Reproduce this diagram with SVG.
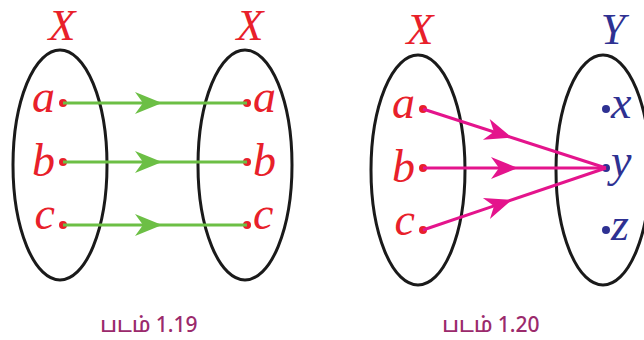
<svg xmlns="http://www.w3.org/2000/svg" xmlns:xlink="http://www.w3.org/1999/xlink" width="644" height="340" viewBox="0 0 644 340">
<style>
.set{fill:none;stroke:#1a1a1a;stroke-width:3}
.lbl{font-family:"Liberation Serif","DejaVu Serif",serif;font-style:italic}
.red{fill:#e8202a}
.blue{fill:#2e3192}
.big{font-size:44px}
.el{font-size:46px}
.g{stroke:#6cbf45;stroke-width:3;fill:none}
.m{stroke:#e4148c;stroke-width:3;fill:none}
.cap{font-family:"Noto Sans","Noto Sans Tamil","Liberation Sans",sans-serif;font-size:21px;font-weight:500;fill:#9b2a6c}
</style>
<defs>
<path id="head" d="M0,0 L-27,-11 L-19,0 L-27,11 Z"/>
</defs>
<rect width="644" height="340" fill="#fff"/>

<g id="fig119-setX1">
<ellipse class="set" cx="60" cy="165" rx="47" ry="115"/>
<text class="lbl red big" x="62" y="40" text-anchor="middle">X</text>
<text class="lbl red el" x="55" y="112" text-anchor="end">a</text>
<text class="lbl red el" x="55" y="176" text-anchor="end">b</text>
<text class="lbl red el" x="55" y="229" text-anchor="end">c</text>
<circle class="red" cx="63" cy="103" r="4"/>
<circle class="red" cx="63" cy="162" r="4"/>
<circle class="red" cx="63" cy="225" r="4"/>
</g>
<g id="fig119-setX2">
<ellipse class="set" cx="245" cy="165" rx="47" ry="115"/>
<text class="lbl red big" x="250" y="40" text-anchor="middle">X</text>
<text class="lbl red el" x="253" y="112">a</text>
<text class="lbl red el" x="253" y="176">b</text>
<text class="lbl red el" x="253" y="229">c</text>
<circle class="red" cx="247" cy="103" r="4"/>
<circle class="red" cx="247" cy="162" r="4"/>
<circle class="red" cx="247" cy="225" r="4"/>
</g>

<g id="fig120-setX">
<ellipse class="set" cx="418" cy="170" rx="47" ry="115"/>
<text class="lbl red big" x="420" y="44" text-anchor="middle">X</text>
<text class="lbl red el" x="415" y="118" text-anchor="end">a</text>
<text class="lbl red el" x="415" y="182" text-anchor="end">b</text>
<text class="lbl red el" x="415" y="235" text-anchor="end">c</text>
<circle class="red" cx="423" cy="109" r="4"/>
<circle class="red" cx="423" cy="168" r="4"/>
<circle class="red" cx="423" cy="230" r="4"/>
</g>
<g id="fig120-setY">
<ellipse class="set" cx="603" cy="170" rx="47" ry="115"/>
<text class="lbl blue big" x="613" y="44" text-anchor="middle">Y</text>
<text class="lbl blue el" x="611" y="118">x</text>
<text class="lbl blue el" x="611" y="176">y</text>
<text class="lbl blue el" x="611" y="240">z</text>
<circle class="blue" cx="606" cy="109" r="4"/>
<circle class="blue" cx="606" cy="168" r="4"/>
<circle class="blue" cx="606" cy="230" r="4"/>
</g>

<g id="connectors">
<line class="g" x1="63" y1="103" x2="247" y2="103"/>
<line class="g" x1="63" y1="162" x2="247" y2="162"/>
<line class="g" x1="63" y1="225" x2="247" y2="225"/>
<use xlink:href="#head" fill="#6cbf45" transform="translate(162,103)"/>
<use xlink:href="#head" fill="#6cbf45" transform="translate(162,162)"/>
<use xlink:href="#head" fill="#6cbf45" transform="translate(162,225)"/>

<line class="m" x1="423" y1="109" x2="606" y2="168"/>
<line class="m" x1="423" y1="168" x2="606" y2="168"/>
<line class="m" x1="423" y1="230" x2="606" y2="168"/>
<use xlink:href="#head" fill="#e4148c" transform="translate(512,137.7) rotate(17.9)"/>
<use xlink:href="#head" fill="#e4148c" transform="translate(518,168)"/>
<use xlink:href="#head" fill="#e4148c" transform="translate(512,199.8) rotate(-18.7)"/>
</g>

<text class="cap" x="149" y="332" text-anchor="middle">படம் 1.19</text>
<text class="cap" x="491" y="332" text-anchor="middle">படம் 1.20</text>
</svg>
